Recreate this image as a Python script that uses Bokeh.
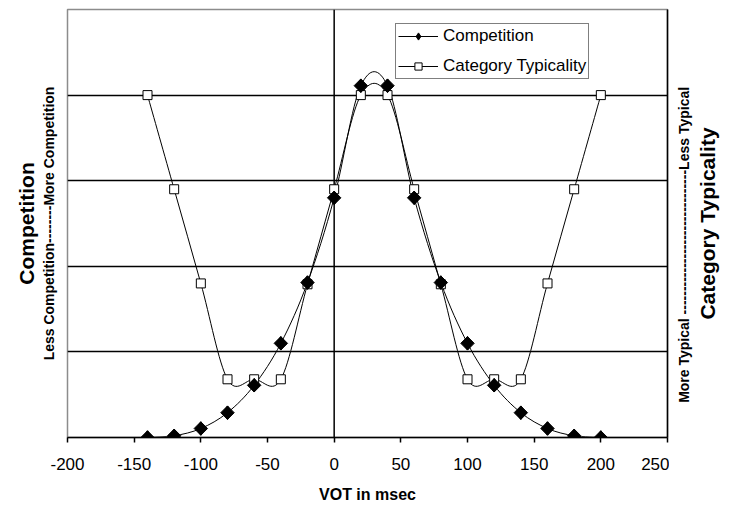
import math
from bokeh.plotting import figure
from bokeh.layouts import row
from bokeh.models import (ColumnDataSource, FixedTicker, Span, Legend, LegendItem, LinearAxis)
from bokeh.embed import file_html
from bokeh.resources import INLINE

# ---- data ----
vot = [-140, -120, -100, -80, -60, -40, -20, 0, 20, 40, 60, 80, 100, 120, 140, 160, 180, 200]
competition = [0.0, 0.02, 0.105, 0.29, 0.61, 1.10, 1.81, 2.80, 4.11, 4.11, 2.80, 1.81, 1.10, 0.61, 0.29, 0.105, 0.02, 0.0]
typicality = [4.0, 2.9, 1.8, 0.68, 0.68, 0.68, 1.79, 2.9, 4.0, 4.0, 2.9, 1.79, 0.68, 0.68, 0.68, 1.8, 2.9, 4.0]
x_ticks = [-200, -150, -100, -50, 0, 50, 100, 150, 200, 250]
grid_levels = [1, 2, 3, 4]

FONT = "Liberation Sans"
NBSP = "\u00a0"


def smooth_source(xs, ys):
    """Cubic Bezier segments (Catmull-Rom style control points) through the data points."""
    n = len(xs)
    d = dict(x0=[], y0=[], x1=[], y1=[], cx0=[], cy0=[], cx1=[], cy1=[])
    for i in range(n - 1):
        a = max(i - 1, 0)
        b = min(i + 2, n - 1)
        d["x0"].append(xs[i]); d["y0"].append(ys[i])
        d["x1"].append(xs[i + 1]); d["y1"].append(ys[i + 1])
        d["cx0"].append(xs[i] + (xs[i + 1] - xs[a]) / 6.0)
        d["cy0"].append(ys[i] + (ys[i + 1] - ys[a]) / 6.0)
        d["cx1"].append(xs[i + 1] - (xs[b] - xs[i]) / 6.0)
        d["cy1"].append(ys[i + 1] - (ys[b] - ys[i]) / 6.0)
    return ColumnDataSource(d)


def title_axis(text, size, standoff):
    return LinearAxis(ticker=FixedTicker(ticks=[]), axis_line_color=None,
                      major_tick_line_color=None, minor_tick_line_color=None,
                      major_tick_out=0, major_tick_in=0, major_label_standoff=0,
                      axis_label=text, axis_label_text_font=FONT,
                      axis_label_text_font_size=size, axis_label_text_font_style="bold",
                      axis_label_text_color="black", axis_label_standoff=standoff)


TOP, BOTTOM = 9, 73

p = figure(width=669, height=510, x_range=(-200, 250), y_range=(0, 5),
           output_backend="svg", toolbar_location=None, tools="",
           y_axis_location="right",
           min_border_left=67, min_border_right=2, min_border_top=TOP, min_border_bottom=BOTTOM)

p.outline_line_color = "#8c8c8c"
p.outline_line_width = 1.5
p.background_fill_color = "white"
p.border_fill_color = "white"

# x axis
p.xaxis.ticker = FixedTicker(ticks=x_ticks)
p.xaxis.major_label_overrides = {t: str(t) for t in x_ticks}
p.xaxis.axis_line_color = "black"
p.xaxis.axis_line_width = 1.5
p.xaxis.major_tick_line_color = "black"
p.xaxis.major_tick_line_width = 1.5
p.xaxis.major_tick_out = 5
p.xaxis.major_tick_in = 0
p.xaxis.minor_tick_line_color = None
p.xaxis.major_label_text_font = FONT
p.xaxis.major_label_text_font_size = "17px"
p.xaxis.major_label_text_color = "black"
p.xaxis.major_label_standoff = 15
p.xaxis.axis_label = "VOT in msec"
p.xaxis.axis_label_text_font = FONT
p.xaxis.axis_label_text_font_size = "16px"
p.xaxis.axis_label_text_font_style = "bold"
p.xaxis.axis_label_text_color = "black"
p.xaxis.axis_label_standoff = 13

# right (secondary) y axis: plain line
p.yaxis.ticker = FixedTicker(ticks=[])
p.yaxis.axis_line_color = "black"
p.yaxis.axis_line_width = 1.5
p.yaxis.major_tick_line_color = None
p.yaxis.minor_tick_line_color = None
p.yaxis.major_tick_out = 0
p.yaxis.major_tick_in = 0
p.yaxis.major_label_standoff = 0

p.add_layout(title_axis("Less Competition--------More Competition", "14px", 11), "left")
p.add_layout(title_axis("Competition", "21px", 0), "left")

# grid
p.xgrid.visible = False
p.ygrid.ticker = FixedTicker(ticks=grid_levels)
p.ygrid.grid_line_color = "black"
p.ygrid.grid_line_width = 1.5

# vertical axis line at VOT = 0
p.add_layout(Span(location=0, dimension="height", line_color="black", line_width=1.5, level="underlay"))

# curves
comp_curve = p.bezier(x0="x0", y0="y0", x1="x1", y1="y1", cx0="cx0", cy0="cy0", cx1="cx1", cy1="cy1",
                      source=smooth_source(vot, competition), line_color="black", line_width=1)
typ_curve = p.bezier(x0="x0", y0="y0", x1="x1", y1="y1", cx0="cx0", cy0="cy0", cx1="cx1", cy1="cy1",
                     source=smooth_source(vot, typicality), line_color="black", line_width=1)

typ_pts = p.scatter(vot, typicality, marker="square", size=9, fill_color="white",
                    line_color="black", line_width=1)
comp_key = p.scatter(vot, competition, marker="diamond", size=13.5,
                     fill_color="black", line_color="black", line_width=1)
comp_pts = p.scatter(vot, competition, marker="square", angle=math.pi / 4, size=9.5,
                     fill_color="black", line_color="black", line_width=1)

legend = Legend(items=[LegendItem(label="Competition", renderers=[comp_curve, comp_key]),
                       LegendItem(label="Category Typicality", renderers=[typ_curve, typ_pts])],
                location=(328, 358), orientation="vertical")
legend.label_text_font = FONT
legend.label_text_font_size = "17px"
legend.label_text_color = "black"
legend.glyph_width = 40
legend.glyph_height = 18
legend.label_height = 18
legend.label_standoff = 5
legend.spacing = 10
legend.padding = 2
legend.margin = 0
legend.border_line_color = "black"
legend.border_line_width = 1
legend.background_fill_color = "white"
legend.background_fill_alpha = 1
p.add_layout(legend)


# right-hand titles (read bottom to top), each in a narrow blank panel
def side_panel(text, size, standoff, width):
    q = figure(width=width, height=510, x_range=(0, 1), y_range=(0, 1),
               output_backend="svg", toolbar_location=None, tools="",
               x_axis_location=None, y_axis_location=None,
               min_border_left=width - 2, min_border_right=0,
               min_border_top=TOP, min_border_bottom=BOTTOM)
    q.outline_line_color = None
    q.xgrid.visible = False
    q.ygrid.visible = False
    q.border_fill_color = "white"
    q.add_layout(title_axis(text, size, standoff), "left")
    return q


q1 = side_panel("More Typical -------------------------------Less Typical" + NBSP * 11, "14px", 3, 27)
q2 = side_panel("Category Typicality", "21px", 14, 36)

layout = row(p, q1, q2, spacing=0)
open("out.html", "w").write(file_html(layout, INLINE))
